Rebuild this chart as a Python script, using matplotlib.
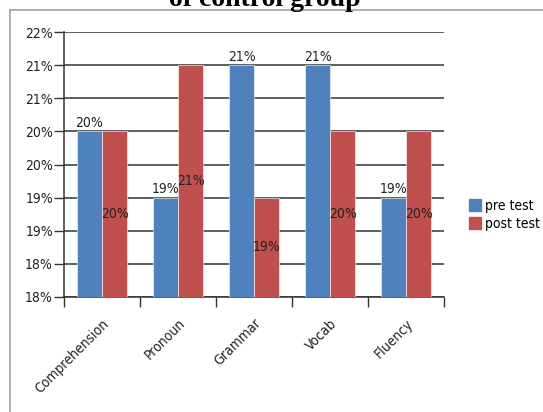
import numpy as np
import matplotlib
matplotlib.use('Agg')
import matplotlib.pyplot as plt
from matplotlib.lines import Line2D
from matplotlib.patches import Patch

# data (in %)
categories = ['Comprehension', 'Pronoun', 'Grammar', 'Vocab', 'Fluency']
pre_test = [20.5, 19.5, 21.5, 21.5, 19.5]
post_test = [20.5, 21.5, 19.5, 20.5, 20.5]
pre_labels = ['20%', '19%', '21%', '21%', '19%']
post_labels = ['20%', '21%', '19%', '20%', '20%']
y_ticks = [18.0, 18.5, 19.0, 19.5, 20.0, 20.5, 21.0, 21.5, 22.0]
y_tick_labels = ['18%', '18%', '19%', '19%', '20%', '20%', '21%', '21%', '22%']

blue = '#4F81BD'
red = '#C0504D'
plt.rcParams['font.family'] = ['DejaVu Sans']
plt.rcParams['font.stretch'] = 'condensed'
fs = 10

fig = plt.figure(figsize=(5.43, 4.12), dpi=100)
ax = fig.add_axes([64 / 543, 1 - 297 / 412, 380 / 543, 265 / 412])

x = np.arange(len(categories))
w = 0.33
ax.bar(x - w / 2, np.array(pre_test) - 18, w, bottom=18, color=blue,
       edgecolor='white', linewidth=0.4, label='pre test', zorder=3)
ax.bar(x + w / 2, np.array(post_test) - 18, w, bottom=18, color=red,
       edgecolor='white', linewidth=0.4, label='post test', zorder=3)

for xi, v, lab in zip(x, pre_test, pre_labels):
    ax.text(xi - w / 2, v + 0.02, lab, ha='center', va='bottom', fontsize=fs,
            color='#222222', zorder=4)
for xi, v, lab in zip(x, post_test, post_labels):
    ax.text(xi + w / 2, (v + 18) / 2, lab, ha='center', va='center', fontsize=fs,
            color='#222222', zorder=4)

ax.set_xlim(-0.5, len(categories) - 0.5)
ax.set_ylim(18, 22)
ax.set_yticks(y_ticks)
ax.set_yticklabels(y_tick_labels, fontsize=fs, color='#222222')
ax.yaxis.grid(True, color='#333333', linewidth=1.1, zorder=0)
ax.set_axisbelow(True)

ax.set_xticks(np.arange(len(categories) + 1) - 0.5)
ax.set_xticklabels([])
ax.set_xticks(x, minor=True)
ax.set_xticklabels(categories, minor=True, rotation=45, ha='right',
                   rotation_mode='anchor', fontsize=fs, color='#222222')
ax.tick_params(axis='x', which='minor', length=0, pad=14)
ax.tick_params(axis='x', which='major', length=7, width=1, color='#333333')
ax.tick_params(axis='y', length=7, width=1, color='#333333', pad=1)

for s in ['top', 'right']:
    ax.spines[s].set_visible(False)
for s in ['left', 'bottom']:
    ax.spines[s].set_color('#333333')
    ax.spines[s].set_linewidth(1.1)

ax.legend(handles=[Patch(color=blue, label='pre test'), Patch(color=red, label='post test')],
          loc='center left', bbox_to_anchor=(1.045, 0.31), frameon=False, fontsize=fs,
          handlelength=0.8, handleheight=1.0, handletextpad=0.3, labelspacing=0.3,
          borderaxespad=0.2)

# outer chart frame (clipped by image)
fig.add_artist(Line2D([10 / 543, 1], [1 - 10 / 412, 1 - 10 / 412], color='#a0a0a0', lw=1.2))
fig.add_artist(Line2D([10 / 543, 10 / 543], [0, 1 - 10 / 412], color='#a0a0a0', lw=1.2))

# title, mostly cut off at the top like the reference
fig.text(0.487, 1 - 6 / 412, 'of control group', ha='center', va='baseline',
         fontsize=20, fontweight='bold', family=['Liberation Serif', 'DejaVu Serif'],
         stretch='normal')

fig.savefig('out.png', dpi=100)
